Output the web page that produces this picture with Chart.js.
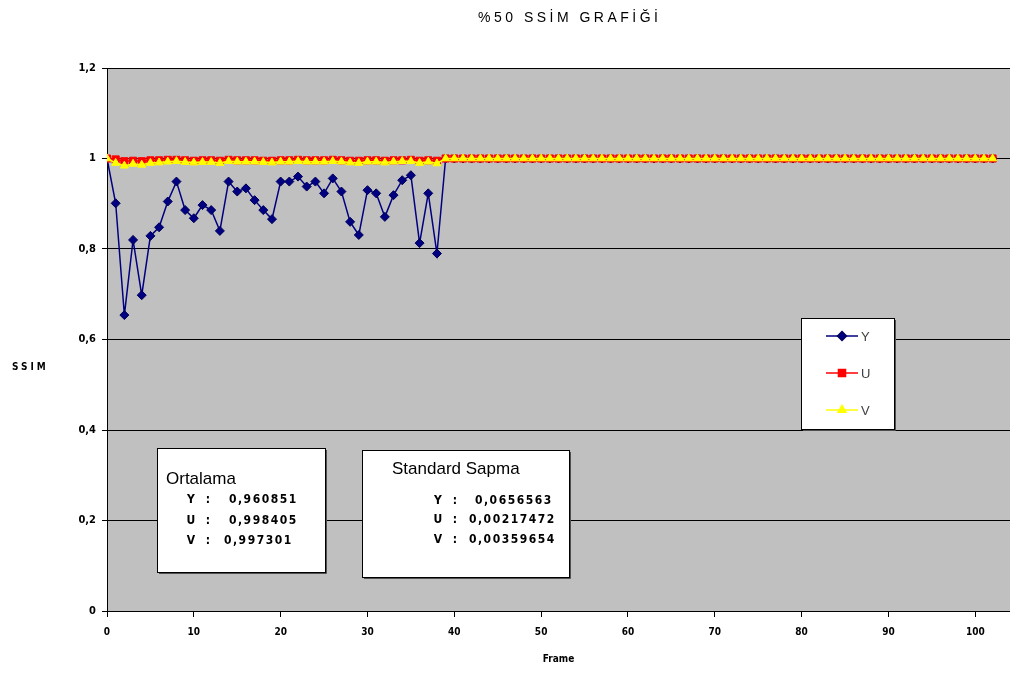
<!DOCTYPE html>
<html>
<head>
<meta charset="utf-8">
<script src="https://cdn.jsdelivr.net/npm/chart.js@4/dist/chart.umd.min.js"></script>
<style>
  html, body { margin: 0; padding: 0; background: #ffffff; }
  #wrap { width: 1010px; height: 675px; position: relative; }
</style>
</head>
<body>
<div id="wrap"><canvas id="c"></canvas></div>
<script>
// Frame numbers (x values)
const frames = [
  0, 1, 2, 3, 4, 5, 6, 7, 8, 9, 10, 11, 12, 13, 14, 15, 16, 17, 18, 19,
  20, 21, 22, 23, 24, 25, 26, 27, 28, 29, 30, 31, 32, 33, 34, 35, 36, 37, 38, 39,
  40, 41, 42, 43, 44, 45, 46, 47, 48, 49, 50, 51, 52, 53, 54, 55, 56, 57, 58, 59,
  60, 61, 62, 63, 64, 65, 66, 67, 68, 69, 70, 71, 72, 73, 74, 75, 76, 77, 78, 79,
  80, 81, 82, 83, 84, 85, 86, 87, 88, 89, 90, 91, 92, 93, 94, 95, 96, 97, 98, 99,
  100, 101, 102
];

// SSIM per frame, Y channel
const ySeries = [
  1.000, 0.901, 0.654, 0.820, 0.698, 0.829, 0.848, 0.905, 0.949, 0.886,
  0.868, 0.897, 0.886, 0.840, 0.949, 0.927, 0.934, 0.908, 0.886, 0.866,
  0.949, 0.949, 0.960, 0.938, 0.949, 0.923, 0.956, 0.927, 0.860, 0.831,
  0.930, 0.923, 0.871, 0.919, 0.952, 0.963, 0.813, 0.923, 0.790, 1.000,
  1, 1, 1, 1, 1, 1, 1, 1, 1, 1, 1, 1, 1, 1, 1, 1, 1, 1, 1, 1,
  1, 1, 1, 1, 1, 1, 1, 1, 1, 1, 1, 1, 1, 1, 1, 1, 1, 1, 1, 1,
  1, 1, 1, 1, 1, 1, 1, 1, 1, 1, 1, 1, 1, 1, 1, 1, 1, 1, 1, 1,
  1, 1, 1
];

// SSIM per frame, U channel
const uSeries = [
  1.000, 0.998, 0.994, 0.995, 0.994, 0.996, 0.996, 0.997, 0.997, 0.996,
  0.995, 0.996, 0.996, 0.995, 0.997, 0.996, 0.996, 0.996, 0.995, 0.995,
  0.996, 0.996, 0.997, 0.996, 0.996, 0.996, 0.997, 0.996, 0.995, 0.995,
  0.996, 0.996, 0.995, 0.996, 0.996, 0.997, 0.995, 0.996, 0.995, 1.000,
  1, 1, 1, 1, 1, 1, 1, 1, 1, 1, 1, 1, 1, 1, 1, 1, 1, 1, 1, 1,
  1, 1, 1, 1, 1, 1, 1, 1, 1, 1, 1, 1, 1, 1, 1, 1, 1, 1, 1, 1,
  1, 1, 1, 1, 1, 1, 1, 1, 1, 1, 1, 1, 1, 1, 1, 1, 1, 1, 1, 1,
  1, 1, 1
];

// SSIM per frame, V channel
const vSeries = [
  1.000, 0.990, 0.984, 0.988, 0.986, 0.990, 0.991, 0.993, 0.994, 0.992,
  0.991, 0.992, 0.992, 0.990, 0.994, 0.993, 0.993, 0.993, 0.992, 0.991,
  0.993, 0.993, 0.994, 0.993, 0.993, 0.993, 0.994, 0.993, 0.991, 0.990,
  0.993, 0.993, 0.991, 0.993, 0.994, 0.994, 0.990, 0.993, 0.989, 1.000,
  1, 1, 1, 1, 1, 1, 1, 1, 1, 1, 1, 1, 1, 1, 1, 1, 1, 1, 1, 1,
  1, 1, 1, 1, 1, 1, 1, 1, 1, 1, 1, 1, 1, 1, 1, 1, 1, 1, 1, 1,
  1, 1, 1, 1, 1, 1, 1, 1, 1, 1, 1, 1, 1, 1, 1, 1, 1, 1, 1, 1,
  1, 1, 1
];

const seriesNames = ['Y', 'U', 'V'];
const yTicks = [0, 0.2, 0.4, 0.6, 0.8, 1, 1.2];
const xTicks = [0, 10, 20, 30, 40, 50, 60, 70, 80, 90, 100];

// Summary statistics shown in the two text boxes
const meanValues = ['0,960851', '0,998405', '0,997301'];
const sdValues = ['0,0656563', '0,00217472', '0,00359654'];

const titleText = '%50 SSİM GRAFİĞİ';
const PIX_FONT = "'DejaVu Sans Condensed', 'DejaVu Sans', sans-serif";
const TXT_FONT = "'Liberation Sans', Arial, sans-serif";

function toPoints(vals) {
  return frames.map((f, i) => ({ x: f, y: vals[i] }));
}

function fmtComma(v) {
  const r = Math.round(v * 10) / 10;
  return String(r).replace('.', ',');
}

// Gray plot area
const plotBackground = {
  id: 'plotBackground',
  beforeDraw(chart) {
    const { ctx, chartArea: a } = chart;
    ctx.save();
    ctx.fillStyle = '#c0c0c0';
    ctx.fillRect(a.left, a.top, a.right - a.left, a.bottom - a.top);
    ctx.restore();
  }
};

function drawBox(ctx, x, y, w, h) {
  ctx.fillStyle = '#ffffff';
  ctx.fillRect(x, y, w, h);
  ctx.strokeStyle = '#000000';
  ctx.lineWidth = 1;
  ctx.strokeRect(x + 0.5, y + 0.5, w, h);
  ctx.strokeStyle = '#505050';
  ctx.beginPath();
  ctx.moveTo(x + w + 1.5, y + 2);
  ctx.lineTo(x + w + 1.5, y + h + 1.5);
  ctx.lineTo(x + 2, y + h + 1.5);
  ctx.stroke();
}

function pixText(ctx, text, x, y, size, spacing, align) {
  ctx.font = 'bold ' + size + 'px ' + PIX_FONT;
  ctx.letterSpacing = spacing + 'px';
  ctx.textAlign = align || 'left';
  ctx.textBaseline = 'middle';
  ctx.fillText(text, x, y);
  ctx.letterSpacing = '0px';
}

// Title, axis caption, legend and statistics boxes
const overlay = {
  id: 'overlay',
  afterDraw(chart) {
    const ctx = chart.ctx;
    ctx.save();

    // Title, stretched to its set width
    ctx.fillStyle = '#000000';
    ctx.font = '14px ' + TXT_FONT;
    ctx.textBaseline = 'middle';
    ctx.textAlign = 'left';
    const tw = ctx.measureText(titleText).width;
    const sp = (180 - tw) / (titleText.length - 1);
    ctx.letterSpacing = sp + 'px';
    ctx.fillText(titleText, 478, 18);
    ctx.letterSpacing = '0px';

    // Value axis caption
    pixText(ctx, 'SSIM', 12, 367, 10, 3, 'left');

    // Legend
    drawBox(ctx, 801, 318, 93, 111);
    const ds = chart.data.datasets;
    const rows = [336, 373, 410];
    for (let i = 0; i < 3; i++) {
      const d = ds[i];
      const yy = rows[i];
      ctx.strokeStyle = d.borderColor;
      ctx.lineWidth = 1.5;
      ctx.beginPath();
      ctx.moveTo(826, yy);
      ctx.lineTo(858, yy);
      ctx.stroke();
      ctx.fillStyle = d.pointBackgroundColor;
      ctx.strokeStyle = d.pointBorderColor;
      Chart.helpers.drawPoint(ctx, {
        pointStyle: d.pointStyle,
        radius: d.pointRadius,
        rotation: 0,
        borderWidth: 1
      }, 842, yy);
      ctx.fillStyle = '#404040';
      ctx.font = '13px ' + TXT_FONT;
      ctx.textAlign = 'left';
      ctx.textBaseline = 'middle';
      ctx.fillText(seriesNames[i], 861, yy + 1);
    }

    // Mean box
    drawBox(ctx, 157, 448, 168, 124);
    ctx.fillStyle = '#000000';
    ctx.font = '17px ' + TXT_FONT;
    ctx.textAlign = 'left';
    ctx.textBaseline = 'middle';
    ctx.fillText('Ortalama', 166, 479);
    const mRows = [500, 521, 541];
    for (let i = 0; i < 3; i++) {
      ctx.fillStyle = '#000000';
      pixText(ctx, seriesNames[i], 191, mRows[i], 12, 0, 'center');
      pixText(ctx, ':', 208, mRows[i], 12, 0, 'center');
      pixText(ctx, meanValues[i], i === 2 ? 224 : 229, mRows[i], 12, 1.5, 'left');
    }

    // Standard deviation box
    drawBox(ctx, 362, 450, 207, 127);
    ctx.fillStyle = '#000000';
    ctx.font = '17px ' + TXT_FONT;
    ctx.textAlign = 'left';
    ctx.textBaseline = 'middle';
    ctx.fillText('Standard Sapma', 392, 469);
    const sRows = [501, 520, 540];
    for (let i = 0; i < 3; i++) {
      ctx.fillStyle = '#000000';
      pixText(ctx, seriesNames[i], 438, sRows[i], 12, 0, 'center');
      pixText(ctx, ':', 455, sRows[i], 12, 0, 'center');
      pixText(ctx, sdValues[i], i === 0 ? 475 : 469, sRows[i], 12, 1.5, 'left');
    }

    ctx.restore();
  }
};

const tickFont = { family: PIX_FONT, size: 10, weight: 'bold' };

new Chart(document.getElementById('c'), {
  type: 'line',
  data: {
    datasets: [
      {
        label: seriesNames[0],
        data: toPoints(ySeries),
        borderColor: '#000080',
        borderWidth: 1.5,
        pointStyle: 'rectRot',
        pointRadius: 4.5,
        pointBackgroundColor: '#000080',
        pointBorderColor: '#00005a',
        pointBorderWidth: 1,
        tension: 0,
        order: 3
      },
      {
        label: seriesNames[1],
        data: toPoints(uSeries),
        borderColor: '#ff0000',
        borderWidth: 1.5,
        pointStyle: 'rect',
        pointRadius: 5,
        pointBackgroundColor: '#ff0000',
        pointBorderColor: '#ff0000',
        pointBorderWidth: 1,
        tension: 0,
        order: 2
      },
      {
        label: seriesNames[2],
        data: toPoints(vSeries),
        borderColor: '#ffff00',
        borderWidth: 1.5,
        pointStyle: 'triangle',
        pointRadius: 4.6,
        pointBackgroundColor: '#ffff00',
        pointBorderColor: '#ffff00',
        pointBorderWidth: 1,
        tension: 0,
        order: 1
      }
    ]
  },
  options: {
    responsive: true,
    maintainAspectRatio: false,
    animation: false,
    events: [],
    layout: { autoPadding: false, padding: { top: 68, right: 0, left: 0, bottom: 0 } },
    plugins: {
      legend: { display: false },
      tooltip: { enabled: false },
      title: { display: false }
    },
    scales: {
      x: {
        type: 'linear',
        min: 0,
        max: 104,
        afterBuildTicks(scale) { scale.ticks = xTicks.map(v => ({ value: v })); },
        afterFit(scale) {
          scale.height = 64;
          scale.paddingLeft = 0;
          scale.paddingRight = 0;
        },
        grid: { drawOnChartArea: false, drawTicks: true, tickLength: 6, color: '#000000', lineWidth: 1 },
        border: { display: true, color: '#000000', width: 1 },
        ticks: { font: tickFont, color: '#000000', padding: 9, maxRotation: 0, autoSkip: false },
        title: { display: true, text: 'Frame', font: tickFont, color: '#000000', padding: { top: 0, bottom: 10 } }
      },
      y: {
        type: 'linear',
        min: 0,
        max: 1.2,
        afterBuildTicks(scale) { scale.ticks = yTicks.map(v => ({ value: v })); },
        afterFit(scale) { scale.width = 107; },
        grid: { drawOnChartArea: true, drawTicks: true, tickLength: 5, color: '#000000', lineWidth: 1 },
        border: { display: true, color: '#000000', width: 1 },
        ticks: { font: { family: PIX_FONT, size: 11, weight: 'bold' }, color: '#000000', padding: 6, callback: v => fmtComma(v) }
      }
    }
  },
  plugins: [plotBackground, overlay]
});
</script>
</body>
</html>
